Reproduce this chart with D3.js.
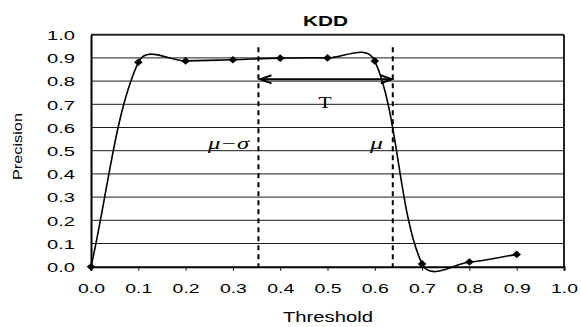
<!DOCTYPE html>
<html>
<head>
<meta charset="utf-8">
<script src="https://cdn.jsdelivr.net/npm/d3@7"></script>
<style>
  html, body { margin: 0; padding: 0; background: #fff; }
  svg { display: block; }
  text { font-family: "Liberation Sans", Arial, sans-serif; fill: #000; }
</style>
</head>
<body>
<svg id="chart" width="581" height="327"></svg>
<script>
// ---- data ----
const thresholds = [0.0, 0.1, 0.2, 0.3, 0.4, 0.5, 0.6, 0.7, 0.8, 0.9];
const precision  = [0.0, 0.881, 0.887, 0.892, 0.899, 0.900, 0.887, 0.012, 0.020, 0.053];
const xTicks = [0.0, 0.1, 0.2, 0.3, 0.4, 0.5, 0.6, 0.7, 0.8, 0.9, 1.0];
const yTicks = [0.0, 0.1, 0.2, 0.3, 0.4, 0.5, 0.6, 0.7, 0.8, 0.9, 1.0];
const muMinusSigma = 0.354;
const mu = 0.638;
const dashTop = 0.946;
const arrowY = 0.808;
const title = "KDD";
const xLabel = "Threshold";
const yLabel = "Precision";

// ---- layout ----
const svg = d3.select("#chart");
const L = 91, R = 564, T = 34.7, B = 266.7;
const x = d3.scaleLinear().domain([0, 1]).range([L, R]);
const y = d3.scaleLinear().domain([0, 1]).range([B, T]);

// gridlines
svg.append("g").selectAll("line").data(yTicks.filter(d => d > 0 && d < 1)).join("line")
  .attr("x1", L).attr("x2", R)
  .attr("y1", d => y(d)).attr("y2", d => y(d))
  .attr("stroke", "#1a1a1a").attr("stroke-width", 1);

// frame (top, right)
svg.append("line").attr("x1", L).attr("x2", R).attr("y1", T).attr("y2", T)
  .attr("stroke", "#222").attr("stroke-width", 2);
svg.append("line").attr("x1", R).attr("x2", R).attr("y1", T).attr("y2", B)
  .attr("stroke", "#222").attr("stroke-width", 2);

// x axis
const xAxis = d3.axisBottom(x).tickValues(xTicks).tickSize(4).tickFormat(d3.format(".1f"));
const gx = svg.append("g").attr("transform", `translate(0,${B})`).call(xAxis);
gx.select(".domain").attr("stroke", "#000").attr("stroke-width", 2);
gx.selectAll(".tick line").attr("stroke", "#000").attr("stroke-width", 1);
gx.selectAll(".tick text")
  .attr("dy", null)
  .attr("y", 26)
  .style("font-size", "13.5px")
  .attr("textLength", 27).attr("lengthAdjust", "spacingAndGlyphs");

// y axis
const yAxis = d3.axisLeft(y).tickValues(yTicks).tickSize(0).tickFormat(d3.format(".1f"));
const gy = svg.append("g").attr("transform", `translate(${L},0)`).call(yAxis);
gy.select(".domain").attr("stroke", "#000").attr("stroke-width", 2);
gy.selectAll(".tick text")
  .attr("x", -16).attr("dy", "0.36em")
  .style("font-size", "13.5px")
  .attr("textLength", 28).attr("lengthAdjust", "spacingAndGlyphs");

// smoothed curve (distance-weighted Catmull-Rom, Excel-like smoothing)
const pts = thresholds.map((t, i) => [x(t), y(precision[i])]);
function smoothPath(p, a) {
  const path = d3.path();
  const dist = (u, v) => Math.pow(Math.hypot(v[0] - u[0], v[1] - u[1]), a);
  path.moveTo(p[0][0], p[0][1]);
  for (let i = 0; i < p.length - 1; i++) {
    const p0 = p[Math.max(i - 1, 0)], p1 = p[i], p2 = p[i + 1], p3 = p[Math.min(i + 2, p.length - 1)];
    const d01 = dist(p0, p1), d12 = dist(p1, p2), d23 = dist(p2, p3);
    const f1 = (d01 + d12) > 0 ? d12 / (d01 + d12) / 3 : 0;
    const f2 = (d12 + d23) > 0 ? d12 / (d12 + d23) / 3 : 0;
    const c1 = [p1[0] + (p2[0] - p0[0]) * f1, p1[1] + (p2[1] - p0[1]) * f1];
    const c2 = [p2[0] - (p3[0] - p1[0]) * f2, p2[1] - (p3[1] - p1[1]) * f2];
    path.bezierCurveTo(c1[0], c1[1], c2[0], c2[1], p2[0], p2[1]);
  }
  return path.toString();
}
svg.append("path").attr("d", smoothPath(pts, 0.7))
  .attr("fill", "none").attr("stroke", "#000").attr("stroke-width", 1.6);

// markers
svg.append("g").selectAll("path").data(pts).join("path")
  .attr("transform", d => `translate(${d[0]},${d[1]})`)
  .attr("d", "M0,-3.8L4.3,0L0,3.8L-4.3,0Z")
  .attr("fill", "#000");

// dashed lines
[muMinusSigma, mu].forEach(v => {
  svg.append("line")
    .attr("x1", x(v)).attr("x2", x(v))
    .attr("y1", y(dashTop)).attr("y2", y(0))
    .attr("stroke", "#000").attr("stroke-width", 2)
    .attr("stroke-dasharray", "5,4");
});

// arrow
const ax1 = x(muMinusSigma) + 2, ax2 = x(mu) - 1, ay = y(arrowY);
svg.append("line").attr("x1", ax1).attr("x2", ax2).attr("y1", ay).attr("y2", ay)
  .attr("stroke", "#000").attr("stroke-width", 2);
svg.append("path")
  .attr("d", `M${ax1 + 11},${ay - 4}L${ax1},${ay}L${ax1 + 11},${ay + 4}`)
  .attr("fill", "none").attr("stroke", "#000").attr("stroke-width", 2);
svg.append("path")
  .attr("d", `M${ax2 - 11},${ay - 4}L${ax2},${ay}L${ax2 - 11},${ay + 4}`)
  .attr("fill", "none").attr("stroke", "#000").attr("stroke-width", 2);

// annotations
svg.append("text").text("T")
  .attr("x", (x(muMinusSigma) + x(mu)) / 2 - 0.5).attr("y", 108)
  .attr("text-anchor", "middle")
  .style("font-family", "'Liberation Serif', 'Times New Roman', serif")
  .style("font-size", "16px")
  .attr("textLength", 13).attr("lengthAdjust", "spacingAndGlyphs");
svg.append("text").text("\u03bc\u2212\u03c3")
  .attr("x", 208).attr("y", 149)
  .style("font-family", "'Liberation Serif', 'Times New Roman', serif")
  .style("font-style", "italic")
  .style("font-size", "17px")
  .attr("textLength", 41).attr("lengthAdjust", "spacingAndGlyphs");
svg.append("text").text("\u03bc")
  .attr("x", 370).attr("y", 149)
  .style("font-family", "'Liberation Serif', 'Times New Roman', serif")
  .style("font-style", "italic")
  .style("font-size", "17px")
  .attr("textLength", 13).attr("lengthAdjust", "spacingAndGlyphs");

// title & axis labels
svg.append("text").text(title)
  .attr("x", 325.5).attr("y", 26).attr("text-anchor", "middle")
  .style("font-weight", "bold").style("font-size", "15px")
  .attr("textLength", 45).attr("lengthAdjust", "spacingAndGlyphs");
svg.append("text").text(xLabel)
  .attr("x", 328).attr("y", 322).attr("text-anchor", "middle")
  .style("font-size", "14px")
  .attr("textLength", 90).attr("lengthAdjust", "spacingAndGlyphs");
svg.append("text").text(yLabel)
  .attr("transform", "translate(21.5,146.5) rotate(-90)")
  .attr("text-anchor", "middle")
  .style("font-size", "13.5px")
  .attr("textLength", 67).attr("lengthAdjust", "spacingAndGlyphs");
</script>
</body>
</html>
